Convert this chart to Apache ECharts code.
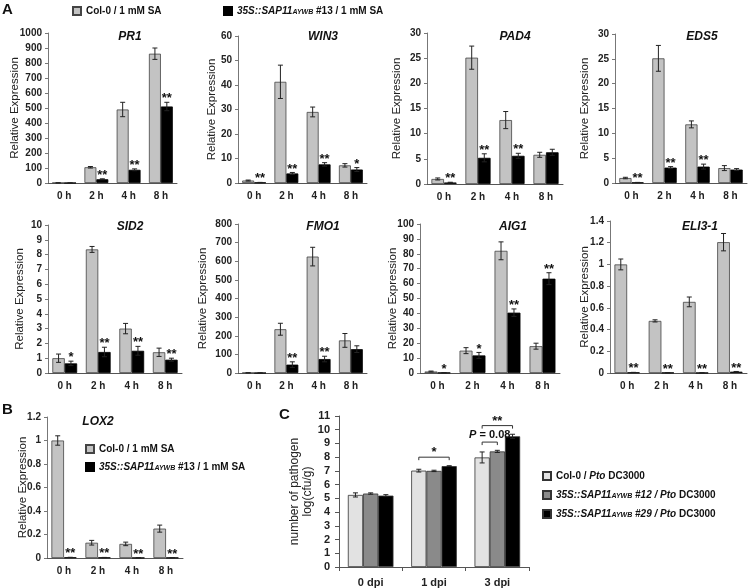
<!DOCTYPE html>
<html><head><meta charset="utf-8">
<script src="https://cdn.jsdelivr.net/npm/echarts@6/dist/echarts.min.js"></script>
<style>html,body{margin:0;padding:0;background:#fff}#c{width:750px;height:588px}</style>
</head><body><div id="c"></div>
<script>
// ---------- DATA ----------
const hours = ['0 h', '2 h', '4 h', '8 h'];
const dpiCats = ['0 dpi', '1 dpi', '3 dpi'];

const PR1_col = [1, 105, 490, 862],   PR1_colErr = [0.5, 5, 48, 38];
const PR1_sap = [0.5, 25, 88, 510],   PR1_sapErr = [0.3, 3, 6, 28];
const PR1_sig = ['', '**', '**', '**'];
const PR1_axis = [1000, 100];

const WIN3_col = [1, 41.3, 29, 7.2],  WIN3_colErr = [0.2, 6.8, 2, 0.7];
const WIN3_sap = [0.2, 3.9, 7.6, 5.5], WIN3_sapErr = [0.05, 0.4, 0.7, 0.8];
const WIN3_sig = ['**', '**', '**', '*'];
const WIN3_axis = [60, 10];

const PAD4_col = [1.0, 25.1, 12.7, 5.8], PAD4_colErr = [0.2, 2.3, 1.7, 0.5];
const PAD4_sap = [0.3, 5.2, 5.6, 6.3],   PAD4_sapErr = [0.05, 0.8, 0.5, 0.6];
const PAD4_sig = ['**', '**', '**', ''];
const PAD4_axis = [30, 5];

const EDS5_col = [1.0, 25.1, 11.8, 3.0], EDS5_colErr = [0.15, 2.6, 0.7, 0.5];
const EDS5_sap = [0.1, 3.1, 3.3, 2.7],   EDS5_sapErr = [0.02, 0.2, 0.5, 0.2];
const EDS5_sig = ['**', '**', '**', ''];
const EDS5_axis = [30, 5];

const SID2_col = [1.0, 8.35, 3.0, 1.4],  SID2_colErr = [0.28, 0.2, 0.35, 0.28];
const SID2_sap = [0.65, 1.42, 1.5, 0.9], SID2_sapErr = [0.15, 0.32, 0.3, 0.1];
const SID2_sig = ['*', '**', '**', '**'];
const SID2_axis = [10, 1];

const FMO1_col = [1, 235, 625, 175],  FMO1_colErr = [0.3, 32, 50, 37];
const FMO1_sap = [0.5, 45, 75, 128],  FMO1_sapErr = [0.2, 15, 15, 18];
const FMO1_sig = ['', '**', '**', ''];
const FMO1_axis = [800, 100];

const AIG1_col = [1.0, 15, 82, 18],     AIG1_colErr = [0.3, 2, 6, 2];
const AIG1_sap = [0.2, 11.8, 40.5, 63.3], AIG1_sapErr = [0.05, 2, 2.5, 4];
const AIG1_sig = ['*', '*', '**', '**'];
const AIG1_axis = [100, 10];

const ELI3_col = [1.0, 0.48, 0.655, 1.205], ELI3_colErr = [0.05, 0.01, 0.045, 0.08];
const ELI3_sap = [0.005, 0.003, 0.002, 0.012], ELI3_sapErr = [0.001, 0.001, 0.001, 0.002];
const ELI3_sig = ['**', '**', '**', '**'];
const ELI3_axis = [1.4, 0.2];

const LOX2_col = [1.0, 0.13, 0.12, 0.25],   LOX2_colErr = [0.04, 0.02, 0.015, 0.03];
const LOX2_sap = [0.005, 0.004, 0.002, 0.003], LOX2_sapErr = [0.001, 0.001, 0.001, 0.001];
const LOX2_sig = ['**', '**', '**', '**'];
const LOX2_axis = [1.2, 0.2];

const C_col0 = [5.25, 7.02, 7.98],  C_col0Err = [0.15, 0.1, 0.4];
const C_l12  = [5.35, 7.0, 8.42],   C_l12Err  = [0.05, 0.05, 0.08];
const C_l29  = [5.2, 7.35, 9.52],   C_l29Err  = [0.07, 0.03, 0.15];
const C_axis = [11, 1];
// brackets: [category, fromBar, toBar, level]
const C_brackets = [[1, 0, 2, 8.0], [2, 0, 1, 9.1], [2, 0, 2, 10.3]];
const C_bracketText = ['*', '{i|P}{b| = 0.08}', '**'];

const COL = 'Col-0 / 1 mM SA';
const SAP = '35S::SAP11AYWB #13 / 1 mM SA';
const C_NAMES = ['Col-0 / Pto DC3000', '35S::SAP11AYWB #12 / Pto DC3000', '35S::SAP11AYWB #29 / Pto DC3000'];

// ---------- LAYOUT ----------
const FONT = '"Liberation Sans", Arial, sans-serif';
const GREY = '#c3c3c3';
const panels = [
  {t:'PR1',    col:PR1_col, ce:PR1_colErr, sap:PR1_sap, se:PR1_sapErr, sig:PR1_sig, ax:PR1_axis, L:48,  T:33,  R:177, B:183, gap:27, tx:130, ty:37},
  {t:'WIN3',   col:WIN3_col, ce:WIN3_colErr, sap:WIN3_sap, se:WIN3_sapErr, sig:WIN3_sig, ax:WIN3_axis, L:238, T:36, R:367, B:183, gap:20, tx:323, ty:37},
  {t:'PAD4',   col:PAD4_col, ce:PAD4_colErr, sap:PAD4_sap, se:PAD4_sapErr, sig:PAD4_sig, ax:PAD4_axis, L:427, T:33, R:563, B:184, gap:24, tx:515, ty:37},
  {t:'EDS5',   col:EDS5_col, ce:EDS5_colErr, sap:EDS5_sap, se:EDS5_sapErr, sig:EDS5_sig, ax:EDS5_axis, L:615, T:34, R:747, B:183, gap:24, tx:702, ty:37},
  {t:'SID2',   col:SID2_col, ce:SID2_colErr, sap:SID2_sap, se:SID2_sapErr, sig:SID2_sig, ax:SID2_axis, L:48,  T:225, R:182, B:373, gap:22, tx:130, ty:227},
  {t:'FMO1',   col:FMO1_col, ce:FMO1_colErr, sap:FMO1_sap, se:FMO1_sapErr, sig:FMO1_sig, ax:FMO1_axis, L:238, T:224, R:367, B:373, gap:29, tx:323, ty:227},
  {t:'AIG1',   col:AIG1_col, ce:AIG1_colErr, sap:AIG1_sap, se:AIG1_sapErr, sig:AIG1_sig, ax:AIG1_axis, L:420, T:224, R:560, B:373, gap:21, tx:513, ty:227},
  {t:'ELI3-1', col:ELI3_col, ce:ELI3_colErr, sap:ELI3_sap, se:ELI3_sapErr, sig:ELI3_sig, ax:ELI3_axis, L:610, T:221, R:747, B:373, gap:19, tx:700, ty:227},
  {t:'LOX2',   col:LOX2_col, ce:LOX2_colErr, sap:LOX2_sap, se:LOX2_sapErr, sig:LOX2_sig, ax:LOX2_axis, L:47,  T:417, R:183, B:558, gap:18, tx:98, ty:422}
];
const CL = {L:339, T:416, R:529, B:567};

const BW2 = 0.37, BW3 = 0.24;
const plainNum = v => String(Math.round(v * 1000) / 1000);

function errorSeries(gi, groups, frac) {
  const data = [], sigs = [];
  groups.forEach((g, k) => {
    const slot = k - (groups.length - 1) / 2;
    g.vals.forEach((v, j) => { data.push([j, v, g.errs[j], slot]); sigs.push(g.sig ? g.sig[j] : ''); });
  });
  return {
    type: 'custom', xAxisIndex: gi, yAxisIndex: gi, data, z: 5, silent: true, clip: false,
    renderItem(params, api) {
      const cat = api.value(0), v = api.value(1), e = api.value(2), slot = api.value(3);
      const band = api.size([1, 0])[0];
      const x = api.coord([cat, v])[0] + slot * band * frac;
      const yT = api.coord([cat, v + e])[1], yB = api.coord([cat, Math.max(0, v - e)])[1];
      const c = 2.5, st = {stroke: '#222', lineWidth: 1};
      const ch = [
        {type: 'line', shape: {x1: x, y1: yT, x2: x, y2: yB}, style: st},
        {type: 'line', shape: {x1: x - c, y1: yT, x2: x + c, y2: yT}, style: st},
        {type: 'line', shape: {x1: x - c, y1: yB, x2: x + c, y2: yB}, style: st}
      ];
      const s = sigs[params.dataIndex];
      if (s) ch.push({type: 'text', x: x, y: yT - 10, style: {text: s, align: 'center', verticalAlign: 'top', font: 'bold 13px ' + FONT, fill: '#111'}});
      return {type: 'group', children: ch};
    }
  };
}

const grid = [], xAxis = [], yAxis = [], series = [], graphic = [];
const tickLbl = {fontWeight: 'bold', fontSize: 10, color: '#222', fontFamily: FONT};

panels.forEach((p, i) => {
  grid.push({left: p.L, top: p.T, width: p.R - p.L, height: p.B - p.T});
  xAxis.push({type: 'category', gridIndex: i, data: hours,
    axisLine: {lineStyle: {color: '#555'}}, axisTick: {show: false},
    axisLabel: Object.assign({margin: 8}, tickLbl)});
  yAxis.push({type: 'value', gridIndex: i, min: 0, max: p.ax[0], interval: p.ax[1],
    axisLine: {show: true, lineStyle: {color: '#777'}}, axisTick: {show: true, length: 3, lineStyle: {color: '#777'}},
    splitLine: {show: false}, axisLabel: Object.assign({margin: 6, formatter: plainNum}, tickLbl),
    name: 'Relative Expression', nameLocation: 'middle', nameGap: p.gap, nameMoveOverlap: false,
    nameTextStyle: {fontSize: 11.5, color: '#222', fontFamily: FONT}});
  series.push({type: 'bar', name: COL, xAxisIndex: i, yAxisIndex: i, data: p.col, barWidth: (BW2 * 100) + '%', barGap: '0%',
    itemStyle: {color: GREY, borderColor: '#444', borderWidth: 0.8}, silent: true});
  series.push({type: 'bar', name: SAP, xAxisIndex: i, yAxisIndex: i, data: p.sap, barWidth: (BW2 * 100) + '%', barGap: '0%',
    itemStyle: {color: '#000', borderColor: '#000', borderWidth: 0.8}, silent: true});
  series.push(errorSeries(i, [{vals: p.col, errs: p.ce}, {vals: p.sap, errs: p.se, sig: p.sig}], BW2));
  graphic.push({type: 'text', x: p.tx, y: p.ty, style: {text: p.t, align: 'center', verticalAlign: 'middle', font: 'italic bold 12px ' + FONT, fill: '#111'}});
});

// Panel C
const ci = panels.length;
grid.push({left: CL.L, top: CL.T, width: CL.R - CL.L, height: CL.B - CL.T});
xAxis.push({type: 'category', gridIndex: ci, data: dpiCats,
  axisLine: {lineStyle: {color: '#555'}}, axisTick: {show: true, length: 4, lineStyle: {color: '#555'}},
  axisLabel: {margin: 10, fontWeight: 'bold', fontSize: 11, color: '#222', fontFamily: FONT}});
yAxis.push({type: 'value', gridIndex: ci, min: 0, max: C_axis[0], interval: C_axis[1],
  axisLine: {show: true, lineStyle: {color: '#555'}}, axisTick: {show: true, length: 4, lineStyle: {color: '#555'}},
  splitLine: {show: false}, axisLabel: {margin: 9, fontSize: 11, fontWeight: 'bold', color: '#222', fontFamily: FONT},
  name: 'number of pathogen\nlog(cfu/g)', nameLocation: 'middle', nameGap: 25, nameMoveOverlap: false,
  nameTextStyle: {fontSize: 12, lineHeight: 13, color: '#222', fontFamily: FONT}});
const cCols = [{c: '#e2e2e2', v: C_col0, e: C_col0Err}, {c: '#8a8a8a', v: C_l12, e: C_l12Err}, {c: '#000', v: C_l29, e: C_l29Err}];
cCols.forEach((s, k) => {
  series.push({type: 'bar', name: C_NAMES[k], xAxisIndex: ci, yAxisIndex: ci, data: s.v, barWidth: (BW3 * 100) + '%', barGap: '0%',
    itemStyle: {color: s.c, borderColor: '#333', borderWidth: 0.8}, silent: true});
});
series.push(errorSeries(ci, cCols.map(s => ({vals: s.v, errs: s.e})), BW3));
series.push({
  type: 'custom', xAxisIndex: ci, yAxisIndex: ci, data: C_brackets, z: 6, silent: true, clip: false,
  renderItem(params, api) {
    const cat = api.value(0), a = api.value(1) - 1, b = api.value(2) - 1, lv = api.value(3);
    const band = api.size([1, 0])[0];
    const p = api.coord([cat, lv]);
    const x1 = p[0] + a * band * BW3, x2 = p[0] + b * band * BW3, y = p[1];
    const st = {stroke: '#333', lineWidth: 1};
    const txt = C_bracketText[params.dataIndex];
    const isStar = txt.indexOf('*') === 0;
    return {type: 'group', children: [
      {type: 'line', shape: {x1: x1, y1: y, x2: x2, y2: y}, style: st},
      {type: 'line', shape: {x1: x1, y1: y, x2: x1, y2: y + 3}, style: st},
      {type: 'line', shape: {x1: x2, y1: y, x2: x2, y2: y + 3}, style: st},
      {type: 'text', x: (x1 + x2) / 2, y: isStar ? y - 11 : y - 7, style: {text: txt, align: 'center', verticalAlign: isStar ? 'top' : 'middle',
        font: 'bold 13px ' + FONT, fill: '#111',
        rich: {i: {fontStyle: 'italic', fontWeight: 'bold', fontSize: 11, fontFamily: FONT}, b: {fontWeight: 'bold', fontSize: 11, fontFamily: FONT}}}}
    ]};
  }
});

// Panel letters
[['A', 2, 2], ['B', 2, 402], ['C', 279, 407]].forEach(l => {
  graphic.push({type: 'text', x: l[1], y: l[2], style: {text: l[0], font: 'bold 15px ' + FONT, fill: '#111'}});
});

function fmt(name) {
  if (name.indexOf('35S::SAP11AYWB') === 0) {
    const rest = name.replace('35S::SAP11AYWB', '');
    if (rest.indexOf('Pto') >= 0) {
      const parts = rest.split('Pto');
      return '{i|35S::SAP11}{s|AYWB}{i|' + parts[0] + '}{i|Pto}' + parts[1];
    }
    return '{i|35S::SAP11}{s|AYWB}' + rest;
  }
  if (name.indexOf('Pto') >= 0) { const parts = name.split('Pto'); return parts[0] + '{i|Pto}' + parts[1]; }
  return name;
}
const legText = {fontWeight: 'bold', fontSize: 10, color: '#111', fontFamily: FONT,
  rich: {i: {fontStyle: 'italic', fontWeight: 'bold', fontSize: 10, fontFamily: FONT, color: '#111'},
         s: {fontStyle: 'italic', fontWeight: 'bold', fontSize: 7, fontFamily: FONT, color: '#111', padding: [3, 0, 0, 0]}}};
const legBase = {icon: 'rect', itemWidth: 8, itemHeight: 8, itemGap: 7, padding: 0, selectedMode: false, formatter: fmt, textStyle: legText};

const option = {
  animation: false,
  backgroundColor: '#fff',
  grid, xAxis, yAxis, series, graphic,
  legend: [
    Object.assign({}, legBase, {data: [COL], left: 72, top: 6}),
    Object.assign({}, legBase, {data: [SAP], left: 223, top: 6}),
    Object.assign({}, legBase, {data: [COL, SAP], orient: 'vertical', left: 85, top: 444, itemGap: 8}),
    Object.assign({}, legBase, {data: C_NAMES, orient: 'vertical', left: 542, top: 471, itemGap: 9})
  ]
};
const chart = echarts.init(document.getElementById('c'), null, {renderer: 'canvas'});
chart.setOption(option);
</script></body></html>
